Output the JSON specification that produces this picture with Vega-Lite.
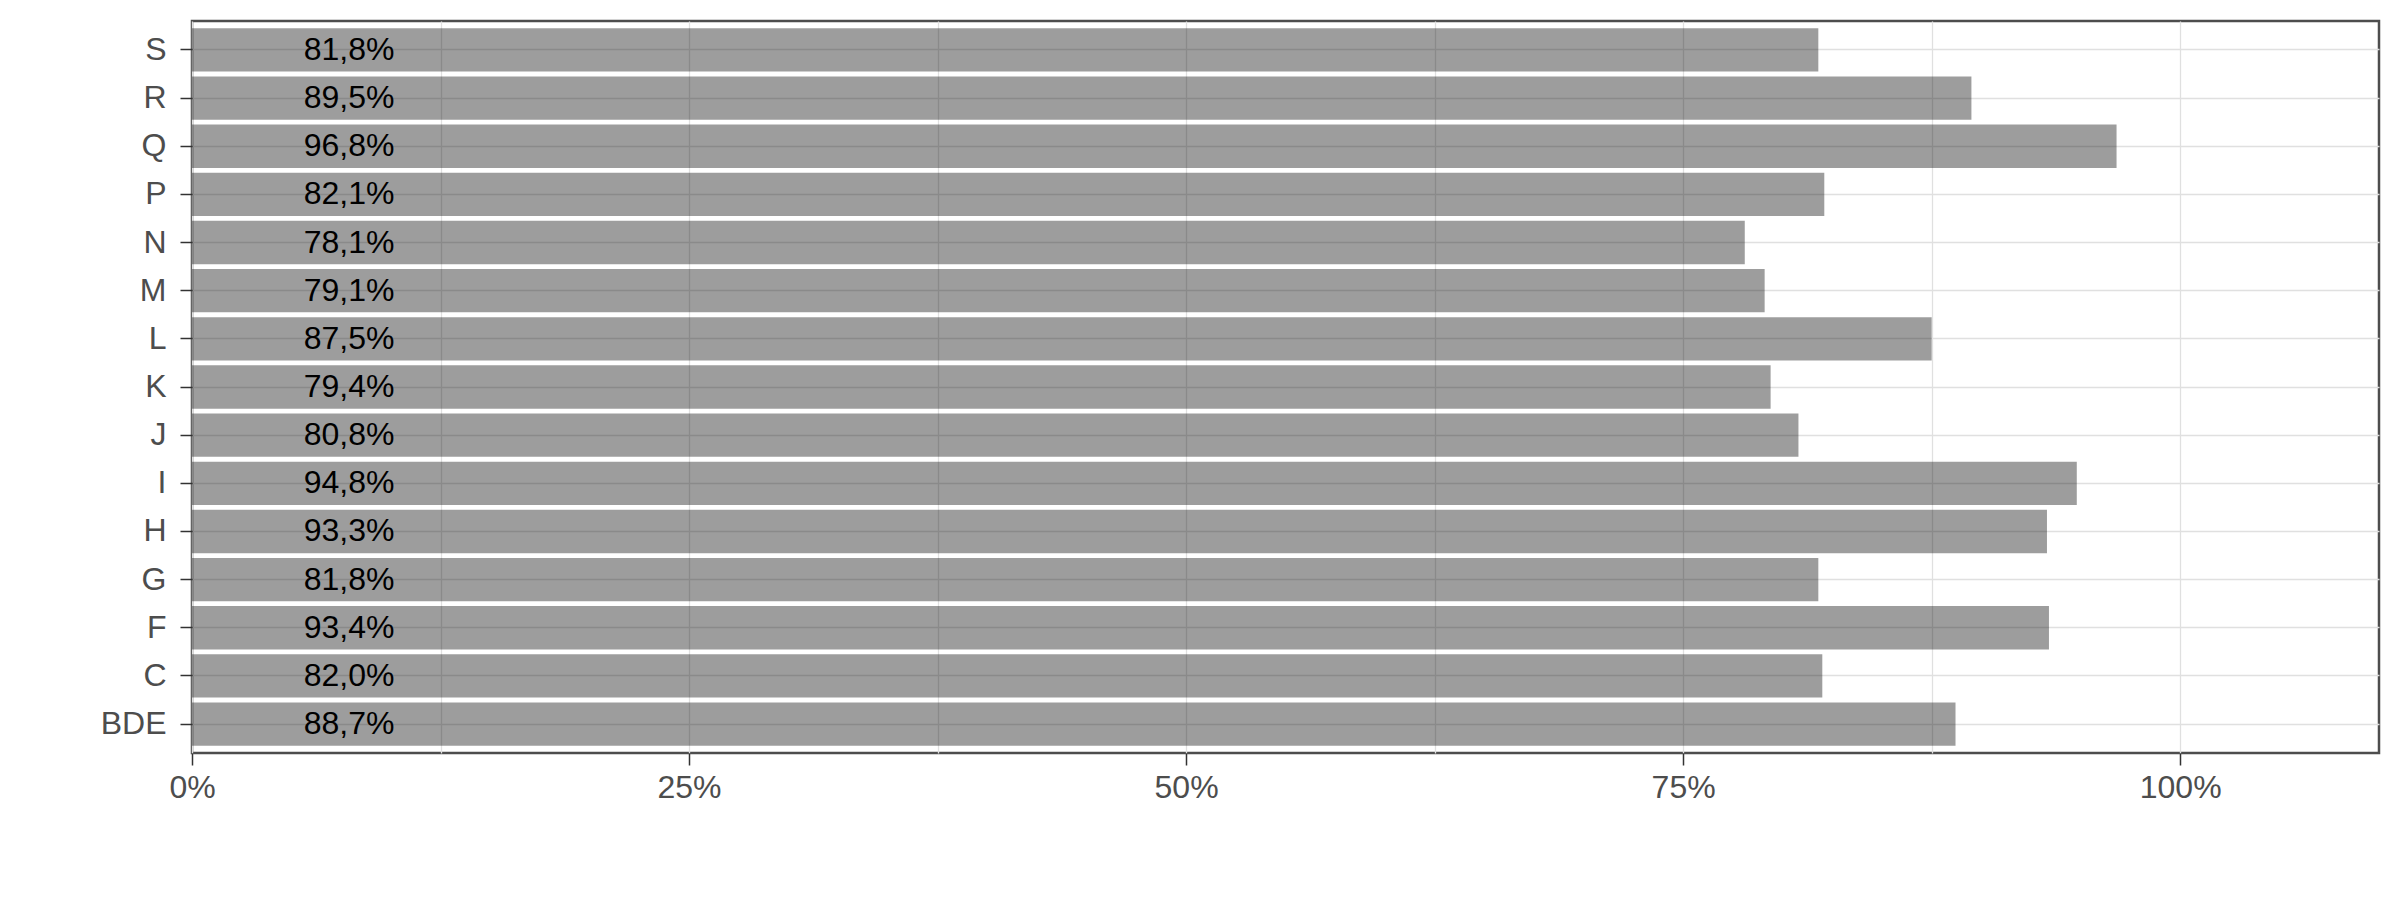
{
"$schema": "https://vega.github.io/schema/vega-lite/v6.json",
"width": 2187,
"height": 732,
"autosize": {"type": "none"},
"padding": {"left": 192, "top": 21, "right": 21, "bottom": 147},
"background": "white",
"config": {
  "locale": {"number": {"decimal": ",", "thousands": ".", "grouping": [3], "currency": ["", " €"]}},
  "view": {"stroke": "#4d4d4d", "strokeWidth": 2.5},
  "font": "Liberation Sans"
},
"data": {
  "values": [
    {"group": "S", "share": 0.818},
    {"group": "R", "share": 0.895},
    {"group": "Q", "share": 0.968},
    {"group": "P", "share": 0.821},
    {"group": "N", "share": 0.781},
    {"group": "M", "share": 0.791},
    {"group": "L", "share": 0.875},
    {"group": "K", "share": 0.794},
    {"group": "J", "share": 0.808},
    {"group": "I", "share": 0.948},
    {"group": "H", "share": 0.933},
    {"group": "G", "share": 0.818},
    {"group": "F", "share": 0.934},
    {"group": "C", "share": 0.820},
    {"group": "BDE", "share": 0.887}
  ]
},
"encoding": {
  "y": {
    "field": "group",
    "type": "nominal",
    "sort": null,
    "title": null,
    "scale": {"paddingInner": 0.1, "paddingOuter": 0.15},
    "axis": {
      "domain": false,
      "bandPosition": 0.5,
      "grid": true,
      "gridColor": "#e0e0e0",
      "gridWidth": 1.3,
      "tickColor": "#333333",
      "tickWidth": 1.5,
      "tickSize": 12,
      "labelPadding": 14,
      "labelFont": "Liberation Sans",
      "labelFontSize": 32,
      "labelColor": "#4d4d4d"
    }
  }
},
"layer": [
  {
    "mark": {"type": "bar", "fill": "#000000", "fillOpacity": 0.385},
    "encoding": {
      "x": {
        "field": "share",
        "type": "quantitative",
        "title": null,
        "scale": {"domain": [0, 1.1], "nice": false, "zero": true},
        "axis": {
          "format": ".0%",
          "values": [0, 0.125, 0.25, 0.375, 0.5, 0.625, 0.75, 0.875, 1.0],
          "labelExpr": "indexof([0, 0.25, 0.5, 0.75, 1], datum.value) >= 0 ? datum.label : ''",
          "tickOpacity": {"condition": {"test": "indexof([0, 0.25, 0.5, 0.75, 1], datum.value) >= 0", "value": 1}, "value": 0},
          "domain": false,
          "grid": true,
          "gridColor": "#e0e0e0",
          "gridWidth": 1.3,
          "tickColor": "#333333",
          "tickWidth": 1.5,
          "tickSize": 12,
          "labelPadding": 7,
          "labelFont": "Liberation Sans",
          "labelFontSize": 32,
          "labelColor": "#4d4d4d",
          "labelFlush": false
        }
      }
    }
  },
  {
    "mark": {"type": "text", "align": "center", "baseline": "middle", "font": "Liberation Sans", "fontSize": 32, "color": "#000000"},
    "encoding": {
      "x": {"datum": 0.079, "type": "quantitative"},
      "text": {"field": "share", "type": "quantitative", "format": ".1%"}
    }
  }
]
}
